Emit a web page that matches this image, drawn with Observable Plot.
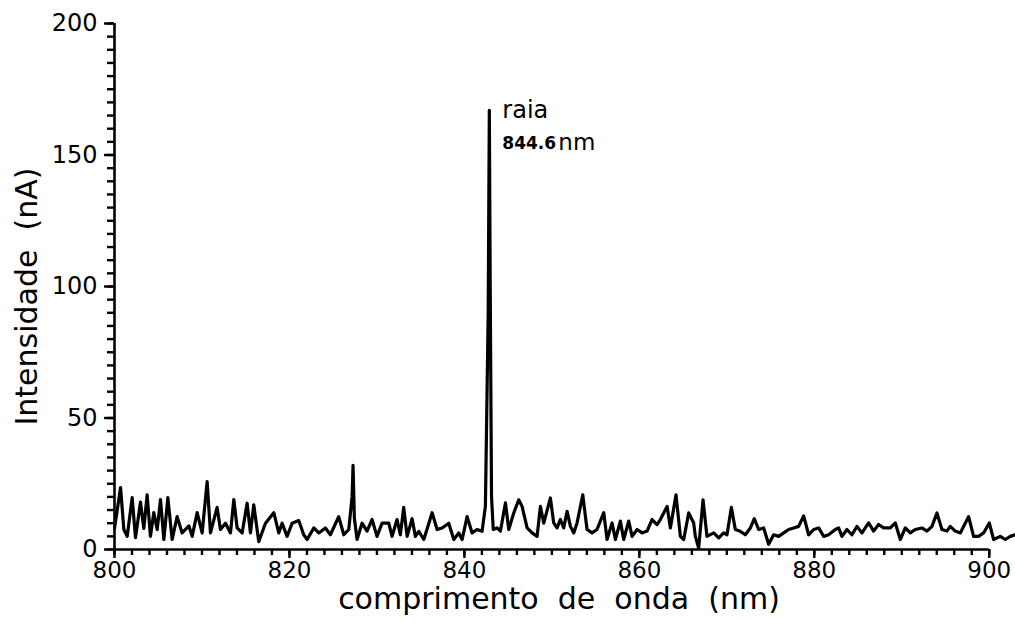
<!DOCTYPE html>
<html>
<head>
<meta charset="utf-8">
<script src="https://cdn.jsdelivr.net/npm/d3@7"></script>
<script src="https://cdn.jsdelivr.net/npm/@observablehq/plot@0.6"></script>
<style>
  html, body { margin: 0; padding: 0; background: #fff; }
  #chart svg { display: block; }
</style>
</head>
<body>
<div id="chart"></div>
<script>
// Emission spectrum, 800–903 nm: wavelength (nm) and measured intensity (nA)
const wavelength = [
  800.0, 800.69, 801.07, 801.45, 802.02, 802.40, 802.97, 803.35, 803.73, 804.11,
  804.49, 804.88, 805.26, 805.64, 806.10, 806.59, 807.16, 807.73, 808.50, 808.88,
  809.45, 810.02, 810.59, 810.97, 811.73, 812.11, 812.69, 813.26, 813.64, 814.02,
  814.59, 815.16, 815.54, 815.92, 816.49, 817.26, 818.21, 818.78, 819.16, 819.73,
  820.30, 821.06, 821.63, 822.02, 822.78, 823.35, 824.11, 824.68, 825.63, 826.21,
  826.78, 827.16, 827.27, 827.42, 827.73, 828.30, 828.87, 829.44, 830.01, 830.59,
  831.35, 831.73, 832.30, 832.68, 833.06, 833.45, 834.02, 834.40, 834.79, 835.36,
  836.31, 836.88, 837.45, 838.21, 838.79, 839.36, 839.74, 840.31, 840.88, 841.45,
  842.02, 842.40, 842.72, 842.85, 842.95, 843.10, 843.30, 843.74, 844.12, 844.69,
  845.07, 845.64, 846.21, 846.59, 847.17, 847.74, 848.31, 848.69, 849.07, 849.83,
  850.21, 850.59, 850.97, 851.35, 851.74, 852.12, 852.50, 852.88, 853.53, 854.02,
  854.59, 855.16, 855.93, 856.31, 856.88, 857.26, 857.83, 858.21, 858.78, 859.17,
  859.74, 860.31, 860.88, 861.45, 862.02, 862.40, 863.17, 863.55, 864.19, 864.69,
  865.07, 865.64, 866.21, 866.40, 866.78, 867.28, 867.73, 868.50, 869.07, 869.64,
  870.02, 870.52, 870.97, 871.54, 872.11, 872.69, 873.14, 873.64, 874.21, 874.78,
  875.35, 875.93, 876.50, 877.07, 877.64, 878.21, 878.78, 879.35, 879.93, 880.50,
  881.07, 881.64, 882.40, 882.78, 883.16, 883.73, 884.30, 884.88, 885.45, 886.21,
  886.78, 887.35, 887.92, 888.69, 889.26, 889.83, 890.40, 890.97, 891.54, 892.30,
  892.88, 893.45, 894.02, 894.59, 895.16, 895.54, 896.11, 896.69, 897.64, 898.21,
  898.78, 899.35, 900.00, 900.50, 901.26, 901.83, 902.40, 902.97
];
const intensity = [
  8, 23.5, 7.6, 5, 19.7, 4.5, 18, 8, 20.8, 5,
  14, 7.6, 19, 3.8, 19.7, 3.8, 12.5, 6.3, 9, 5,
  14, 6.3, 25.8, 6.3, 16, 7.6, 10, 6.3, 19, 8.2,
  6.3, 17.6, 6.3, 17, 3, 10, 14, 6.3, 10, 5,
  10, 11, 5.6, 3.8, 8.2, 6.3, 8.2, 5.6, 12.5, 5.6,
  7.6, 20, 32, 12, 3.8, 10, 7, 11.4, 5, 10,
  10, 5, 11.4, 5.6, 16, 5, 11.7, 5, 6.9, 3.8,
  14, 7.6, 8.2, 10, 3.8, 6.3, 3.8, 12.5, 6.3, 7.6,
  6.9, 16.4, 90, 167, 100, 20, 7.6, 8.2, 7, 17.7,
  7.6, 13.9, 18.9, 16.4, 8.2, 6.3, 5, 16.4, 10, 19.6,
  10.1, 8.2, 11.4, 8.2, 14.5, 8.8, 6.3, 10.1, 20.8, 7.6,
  6.3, 7.6, 14, 3.8, 10.1, 3.8, 10.8, 3.8, 10.8, 5,
  7.6, 6.3, 7, 11.4, 9.5, 11.4, 16.4, 8.2, 20.8, 5,
  3.8, 13.9, 10.1, 5, 0.5, 18.9, 5, 6.3, 4.4, 6.3,
  5.6, 16, 7.6, 6.9, 5.6, 8.2, 11.7, 7.6, 8.2, 2,
  5.6, 5, 6.3, 7.6, 8.2, 8.8, 12.8, 5.6, 7.6, 8.2,
  5, 5.6, 7.6, 8.2, 5, 7.6, 5.6, 8.8, 6.3, 10.1,
  7, 9.5, 8.2, 8.2, 10.1, 3.8, 8.2, 6.3, 7.6, 8.2,
  7, 8.8, 13.9, 7.6, 7, 8.8, 7, 6.3, 12.5, 5,
  5, 6.3, 10.1, 3.8, 5, 3.8, 5, 5.6
];

// Axis ticks
const xMajor = [800, 820, 840, 860, 880, 900];
const xMinor = d3.range(800, 901, 2);
const yMajor = [0, 50, 100, 150, 200];
const yMinor = d3.range(0, 201, 5);

// Texts
const xTitle = "comprimento\u00a0\u00a0de\u00a0\u00a0onda\u00a0\u00a0(nm)";
const yTitle = "Intensidade\u00a0\u00a0(nA)";
const lineName = "raia";
const lineLabel = "844.6";
const lineUnit = "nm";

const spectrum = wavelength.map((w, i) => ({w, v: intensity[i]}));
const peak = spectrum.reduce((a, b) => (b.v > a.v ? b : a));

const font = "DejaVu Sans, Verdana, sans-serif";

const chart = Plot.plot({
  width: 1015,
  height: 622,
  marginLeft: 114,
  marginRight: 0,
  marginTop: 23,
  marginBottom: 73,
  style: {fontFamily: font, fontSize: "24px", color: "#000", background: "#fff"},
  x: {domain: [800, 903]},
  y: {domain: [0, 200]},
  marks: [
    // frame lines (bottom axis stops at 900)
    Plot.ruleY([{y: 0, x1: 800, x2: 900}], {y: "y", x1: "x1", x2: "x2", stroke: "#000", strokeWidth: 2.6}),
    Plot.ruleX([{x: 800, y1: 0, y2: 200}], {x: "x", y1: "y1", y2: "y2", stroke: "#000", strokeWidth: 2.6}),
    // major ticks and labels
    Plot.axisX({ticks: xMajor, tickSize: 9, tickPadding: 3, stroke: "#000", strokeWidth: 2.4, label: null, fontSize: 23}),
    Plot.axisY({ticks: yMajor, tickSize: 10, tickPadding: 7, stroke: "#000", strokeWidth: 2.4, label: null, fontSize: 24}),
    // minor ticks (no labels)
    Plot.axisX({ticks: xMinor, tickSize: 6, tickFormat: () => "", stroke: "#000", strokeWidth: 2.4, label: null}),
    Plot.axisY({ticks: yMinor, tickSize: 7, tickFormat: () => "", stroke: "#000", strokeWidth: 2.4, label: null}),
    // spectrum
    Plot.line(spectrum, {x: "w", y: "v", stroke: "#000", strokeWidth: 3.2, strokeLinejoin: "round"}),
    // line identification beside the peak
    Plot.text([peak], {x: "w", y: "v", text: () => lineName, textAnchor: "start", lineAnchor: "bottom", dx: 13, dy: 8, fontSize: 24}),
    Plot.text([peak], {x: "w", y: "v", text: () => lineLabel, textAnchor: "start", lineAnchor: "bottom", dx: 13, dy: 39, fontSize: 17, fontWeight: "bold"}),
    Plot.text([peak], {x: "w", y: "v", text: () => lineUnit, textAnchor: "start", lineAnchor: "bottom", dx: 69, dy: 40, fontSize: 23}),
    // axis titles
    Plot.text([xTitle], {frameAnchor: "bottom", text: d => d, dx: -6, dy: 59, fontSize: 30}),
    Plot.text([yTitle], {frameAnchor: "left", text: d => d, textAnchor: "middle", rotate: -90, dx: -87, dy: 10, fontSize: 30})
  ]
});

document.getElementById("chart").append(chart);
</script>
</body>
</html>
